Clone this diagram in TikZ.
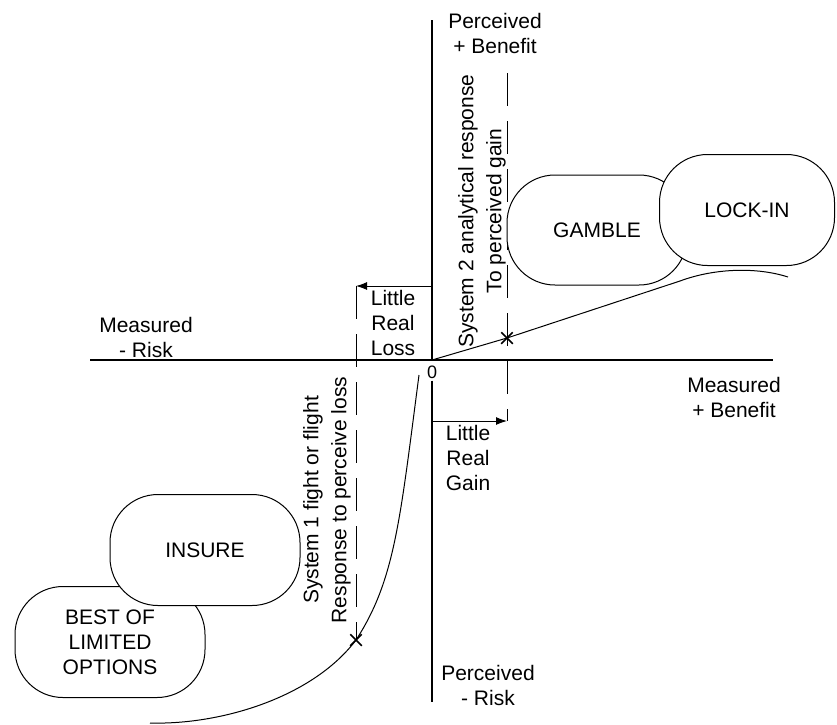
\documentclass[tikz,border=0pt]{standalone}
\usepackage{fontspec}
\setmainfont{Liberation Sans}
\usepackage{tikz}
\usetikzlibrary{shapes, arrows, arrows.meta}
\usetikzlibrary{positioning}
\tikzstyle{pill} = [rectangle, rounded corners=48pt, minimum width=180pt, minimum height=110pt, align=center, draw=black, fill=white, line width=1pt, font=\fontsize{21}{25}\selectfont]
\tikzstyle{axisText} = [align=center, inner sep=0pt, font=\fontsize{21}{25}\selectfont]
\tikzstyle{axis} = [line width=1.2pt]
\tikzstyle{curve} = [line width=1pt]
\tikzstyle{arrow} = [line width=1pt,->,>={Latex[length=11pt,width=8pt]}]
\tikzstyle{guide} = [line width=1pt, dash pattern=on 33pt off 15pt]
\tikzstyle{crossmark} = [cross out, draw=black, line width=1.5pt, minimum size=10pt, inner sep=0pt]

\begin{document}
\begin{tikzpicture}[x=1pt, y=-1pt]
    \useasboundingbox (0,0) rectangle (837,724);
    % axes
    \coordinate (O) at (432,360);
    \coordinate (xMin) at (90,360);
    \coordinate (xMax) at (773,360);
    \coordinate (yMax) at (432,20);
    \coordinate (yMin) at (432,702);
    \node (zero) [axisText, inner sep=2pt, font=\fontsize{18}{20}\selectfont] at (432,372) {0};
    \draw [axis] (xMin) -- (xMax);
    \draw [axis] (yMax) -- (O);
    \draw [axis] (zero) -- (yMin);
    \node (perBen) [axisText] at (495,33) {Perceived\\+ Benefit};
    \node (perRisk) [axisText] at (488,685) {Perceived\\- Risk};
    \node (measRisk) [axisText] at (146,337) {Measured\\- Risk};
    \node (measBen) [axisText] at (734,397) {Measured\\+ Benefit};

    % little real loss / gain
    \coordinate (lossStart) at (432,286);
    \coordinate (lossTop) at (356,286);
    \node (lossX) [crossmark] at (356,640) {};
    \coordinate (gainStart) at (432,421);
    \coordinate (gainTop) at (507,73);
    \coordinate (gainEnd) at (507,421);
    \node (gainX) [crossmark] at (507,338) {};
    \draw [guide] (lossTop) -- (lossX.center);
    \draw [guide] (gainTop) -- (gainEnd);
    \draw [arrow] (lossStart) -- (lossTop);
    \draw [arrow] (gainStart) -- (gainEnd);
    \node (loss) [axisText] at (393,323) {Little\\Real\\Loss};
    \node (gain) [axisText] at (468,458) {Little\\Real\\Gain};
    \node (sys2) [axisText, rotate=90, font=\fontsize{21}{28}\selectfont] at (482,211) {System 2 analytical response\\To perceived gain};
    \node (sys1) [axisText, rotate=90, font=\fontsize{21}{28}\selectfont] at (327,500) {System 1 fight or flight\\Response to perceive loss};

    % value curve
    \coordinate (gainBend) at (680,281);
    \coordinate (gainTail) at (788,277);
    \coordinate (lossHead) at (419,375);
    \coordinate (lossTail) at (150,723);
    \draw [curve] (O) -- (gainX.center) -- (gainBend) .. controls (715,268) and (757,267) .. (gainTail);
    \draw [curve] (lossHead) .. controls (400,520) and (395,580) .. (lossX.center) .. controls (312,698) and (220,725) .. (lossTail);

    % responses
    \node (best) [pill, minimum width=190pt, minimum height=111pt] at (110,642) {BEST OF\\LIMITED\\OPTIONS};
    \node (insure) [pill, minimum width=190pt, minimum height=111pt] at (205,550) {INSURE};
    \node (gamble) [pill] at (597,230) {GAMBLE};
    \node (lockin) [pill, minimum width=175pt, minimum height=111pt] at (747,210) {LOCK-IN};
\end{tikzpicture}
\end{document}
